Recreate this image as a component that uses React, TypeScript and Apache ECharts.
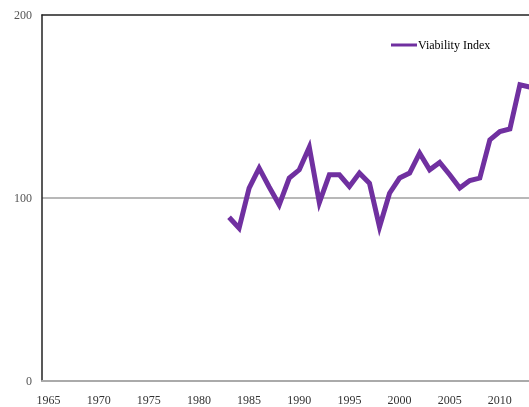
import React, { useEffect, useRef } from "react";
import * as echarts from "echarts";

const years: number[] = [
  1983, 1984, 1985, 1986, 1987, 1988, 1989, 1990, 1991, 1992, 1993, 1994, 1995,
  1996, 1997, 1998, 1999, 2000, 2001, 2002, 2003, 2004, 2005, 2006, 2007, 2008,
  2009, 2010, 2011, 2012, 2013,
];
const viability: number[] = [
  89.5, 83.5, 105.4, 116.3, 106, 96.3, 110.9, 115.4, 127.8, 97.5, 112.7, 112.7, 106.3,
  113.6, 108.1, 84.2, 102.6, 110.9, 113.6, 124.5, 115.4, 119.4, 112.7, 105.4, 109.5, 110.9,
  131.8, 136.3, 137.7, 161.9, 160.6,
];
const xTickLabels: number[] = [1965, 1970, 1975, 1980, 1985, 1990, 1995, 2000, 2005, 2010];
const yTicks: number[] = [0, 100, 200];
const seriesName = "Viability Index";

export default function App() {
  const ref = useRef<HTMLDivElement>(null);
  useEffect(() => {
    if (!ref.current) return;
    const chart = echarts.init(ref.current, undefined, { renderer: "svg" });
    const font = "'Liberation Serif', 'Times New Roman', serif";
    const xMin = 1964.35;
    const xMax = 2014.3;
    const pxPerYear = 10.03;
    chart.setOption({
      animation: false,
      grid: {
        left: 42,
        top: 15,
        height: 366,
        width: (xMax - xMin) * pxPerYear,
      },
      legend: {
        data: [seriesName],
        left: 391,
        top: 39,
        padding: 0,
        itemWidth: 26,
        itemHeight: 12,
        itemGap: 0,
        icon: "path://M0,4.5 L26,4.5 L26,7.5 L0,7.5 Z",
        textStyle: { fontFamily: font, fontSize: 12, color: "#000", padding: [0, 0, 0, -4] },
      },
      xAxis: [
        {
          type: "value",
          min: xMin,
          max: xMax,
          position: "bottom",
          axisLine: { show: true, lineStyle: { color: "#aaaaaa", width: 2 } },
          axisTick: { show: false },
          splitLine: { show: false },
          axisLabel: {
            customValues: xTickLabels,
            formatter: (v: number) => String(v),
            fontFamily: font,
            fontSize: 12,
            color: "#333",
            margin: 13,
          },
        },
        {
          type: "value",
          min: xMin,
          max: xMax,
          position: "top",
          axisLine: { show: true, lineStyle: { color: "#222", width: 1.5 } },
          axisTick: { show: false },
          axisLabel: { show: false },
          splitLine: { show: false },
        },
      ],
      yAxis: {
        type: "value",
        min: yTicks[0],
        max: yTicks[yTicks.length - 1],
        interval: 100,
        axisLine: { show: true, onZero: false, lineStyle: { color: "#222", width: 1.5 } },
        axisTick: { show: false },
        axisLabel: {
          fontFamily: font,
          fontSize: 12,
          color: "#555",
          margin: 10,
        },
        splitLine: { show: true, lineStyle: { color: ["transparent", "#a0a0a0", "transparent"], width: 1.5 } },
      },
      series: [
        {
          name: seriesName,
          type: "line",
          xAxisIndex: 0,
          data: years.map((y, i) => [y, viability[i]]),
          showSymbol: false,
          symbol: "none",
          lineStyle: { color: "#7030a0", width: 5, cap: "butt", join: "miter" },
          itemStyle: { color: "#7030a0" },
        },
      ],
    });
    return () => chart.dispose();
  }, []);
  return (
    <div style={{ position: "fixed", left: 0, top: 0, width: 529, height: 407, overflow: "hidden" }}>
      <div ref={ref} style={{ width: 580, height: 407 }} />
    </div>
  );
}
